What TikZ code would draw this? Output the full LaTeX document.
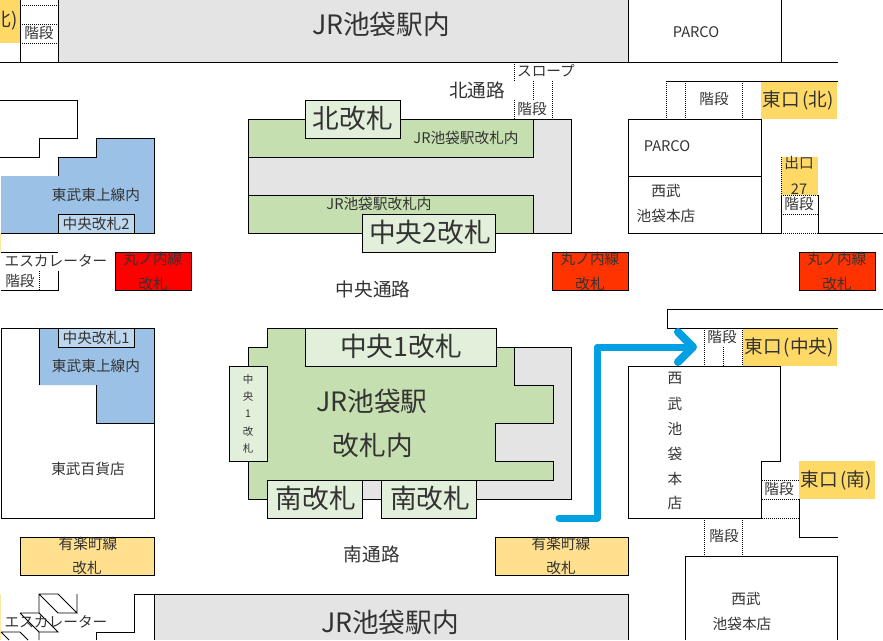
\documentclass[tikz,border=0pt]{standalone}
\usepackage{fontspec}
\setmainfont{Noto Sans CJK JP}
\definecolor{grn}{HTML}{C6DFB0}
\definecolor{lgrn}{HTML}{E2EFDA}
\definecolor{gry}{HTML}{E4E4E4}
\definecolor{blu}{HTML}{9BC2E6}
\definecolor{lblu}{HTML}{BDD7EE}
\definecolor{yel}{HTML}{FFD966}
\definecolor{lyel}{HTML}{FFE08F}
\definecolor{org}{HTML}{FF3300}
\definecolor{arr}{HTML}{00A0E3}
\newcommand{\kp}[1]{\kern2pt(#1)\kern2pt}
\tikzset{
 ln/.style={line width=0.9pt,black},
 dt/.style={line width=1pt,black,dash pattern=on 1pt off 1pt},
 ts/.style={inner sep=0pt,text=black!80,font=\fontsize{14.67}{16}\selectfont},
 tm/.style={inner sep=0pt,text=black!80,font=\fontsize{18.67}{20}\selectfont},
 tb/.style={inner sep=0pt,text=black!80,font=\fontsize{26.67}{28}\selectfont},
 tx/.style={inner sep=0pt,text=black!80,font=\fontsize{10.5}{12}\selectfont},
}
\begin{document}
\begin{tikzpicture}[x=1pt,y=-1pt]
\useasboundingbox (0,0) rectangle (883,640);
\clip (0,0) rectangle (883,640);
% fills top
\fill[yel] (0,0) rectangle (20,43);
\fill[gry] (58,0) rectangle (628,62);
\fill[yel] (761,81) rectangle (837,119);
\fill[yel] (781,157) rectangle (818,195);
\fill[yel] (743,328) rectangle (837,366);
\fill[yel] (799,461) rectangle (875,499);
\fill[yel!60] (0,233) rectangle (1,252);
\fill[yel!60] (0,594) rectangle (1,640);
% top lines
\draw[ln] (0,62) -- (838,62);
\draw[ln] (20.5,0) -- (20.5,62) (58,0) -- (58,62) (628,0) -- (628,62) (781,0) -- (781,62);
\draw[dt] (20,5) -- (58,5) (20,24) -- (58,24) (20,43) -- (58,43);
% slope
\draw[dt] (514,62) -- (514,81) (514,100) -- (514,119) (533,81) -- (533,100) (552,81) -- (552,119);
% north JR
\fill[gry] (248,119) rectangle (571,233);
\draw[ln] (248,119) rectangle (571,233);
\draw[ln,fill=grn] (248,119) rectangle (533,157);
\draw[ln,fill=grn] (248,195) rectangle (533,233);
\draw[ln,fill=lgrn] (305,100) rectangle (400,138);
\draw[ln,fill=lgrn] (362,214) rectangle (495,252);
% left tobu
\draw[ln] (0,100) -- (77,100) -- (77,138) -- (39,138) -- (39,157) -- (0,157);
\fill[blu] (1,176) -- (58,176) -- (58,157) -- (96,157) -- (96,138) -- (154,138) -- (154,233) -- (1,233) -- cycle;
\draw[ln] (58,176) -- (58,157) -- (96,157) -- (96,138) -- (154,138) -- (154,233) -- (1,233);
\draw[ln,fill=lblu] (58,214) rectangle (134.5,233);
% escalator left
\draw[ln] (1,252) -- (58,252) (58,271) -- (58,290) -- (1,290);
\draw[dt] (39,271) -- (39,290);
\draw[ln,fill=red] (115.5,252) rectangle (191.5,290);
\draw[ln,fill=org] (552,252) rectangle (628,290);
\draw[ln,fill=org] (799,252) rectangle (875,290);
% parco
\draw[ln] (628,119) rectangle (761.5,233);
\draw[ln] (628,176) -- (761.5,176);
\draw[ln] (666,81) -- (838,81);
\draw[dt] (666,81) -- (666,119) (685,81) -- (685,119) (742,81) -- (742,119);
\draw[ln] (781,195) -- (781,233) (818,195) -- (818,233);
\draw[ln] (761.5,233) -- (781,233) (818,233) -- (883,233);
\draw[dt] (781,157) -- (781,195) (781,195) -- (818,195) (781,214) -- (818,214) (781,233) -- (818,233);
% lower left
\draw[ln] (1,328) rectangle (154,518);
\fill[blu] (39,328) -- (154,328) -- (154,423) -- (96,423) -- (96,385) -- (39,385) -- cycle;
\draw[ln] (39,385) -- (39,328) -- (154,328) -- (154,423) -- (96,423) -- (96,385);
\draw[ln,fill=lblu] (58,328) rectangle (134.5,347);
\draw[ln,fill=lyel] (20,537) rectangle (154,575);
% center
\fill[gry] (495,347) rectangle (571.5,499);
\fill[gry] (362,480) rectangle (571.5,499);
\draw[ln] (496,347) -- (571.5,347) -- (571.5,499) -- (476,499) (362,499) -- (381,499);
\draw[ln,fill=grn] (267,328) -- (305,328) -- (305,347) -- (514,347) -- (514,385) -- (553,385) -- (553,423) -- (495,423) -- (495,461) -- (553,461) -- (553,480) -- (362,480) -- (362,499) -- (248,499) -- (248,347) -- (267,347) -- cycle;
\draw[ln,fill=lgrn] (305,328) rectangle (496,366);
\draw[ln,fill=lgrn] (229,366) rectangle (267,461);
\draw[ln,fill=lgrn] (267,480) rectangle (362,518);
\draw[ln,fill=lgrn] (381,480) rectangle (476,518);
% right lower
\draw[ln] (883,309) -- (667,309) -- (667,328) -- (838,328);
\draw[dt] (704,328) -- (704,366) (723,347) -- (723,366) (742,328) -- (742,366);
\draw[ln] (628,366) -- (780.5,366) -- (780.5,461) -- (761.5,461) -- (761.5,518) -- (628,518) -- cycle;
\draw[dt] (761.5,480) -- (799,480) (761.5,499) -- (799,499) (761.5,518) -- (799,518);
\draw[ln] (799.5,499) -- (799.5,537) -- (838,537);
\draw[dt] (704,518) -- (704,556) (742,518) -- (742,556);
\draw[ln] (685,640) -- (685,556.5) -- (837.5,556.5) -- (837.5,640);
\draw[ln,fill=lyel] (495,537) rectangle (628.5,575);
% bottom
\fill[gry] (154,594) rectangle (628,640);
\draw[ln] (96.5,640) -- (96.5,632) -- (134.5,632) -- (134.5,594) -- (628.5,594) -- (628.5,640);
\draw[ln] (154,594) -- (154,640);
\draw[ln] (39,613) -- (39,594) -- (58,594) -- (77,613) -- (77,594) (39,594) -- (58,613) -- (77,613);
\draw[ln] (1,632) -- (20,632) -- (28,640) (20,613) -- (39,613) -- (58,632) -- (39,632) -- (39,640) (20,613) -- (39,632) (1,632) -- (9,640);
% arrow
\draw[arr,line width=7pt,line cap=round,line join=round] (559,518) -- (597,518) -- (597,347) -- (692,347);
\draw[arr,line width=8pt,line cap=round,line join=round] (678,332) -- (693,347) -- (678,362);
% text
\begin{scope}
\clip (0,0) rectangle (20,43);
\node[tm,anchor=east] (n1) at (20,20) {東口\kp{北}};
\end{scope}
\node[ts] (n2) at (39,33) {階段};
\node[tb] (n3) at (381,24) {JR池袋駅内};
\node[ts] (n4) at (696,32) {PARCO};
\node[ts] (n5) at (546,71) {スロープ};
\node[ts] (n6) at (532,109) {階段};
\node[tm] (n7) at (477,90) {北通路};
\node[tb] (n8) at (353,118) {北改札};
\node[ts] (n9) at (466,138) {JR池袋駅改札内};
\node[ts] (n10) at (379,204) {JR池袋駅改札内};
\node[tb] (n11) at (430,232) {中央2改札};
\node[ts] (n12) at (96,195) {東武東上線内};
\node[ts] (n13) at (96,223.5) {中央改札2};
\node[ts] (n14) at (56,261) {エスカレーター};
\node[ts] (n15) at (20,281) {階段};
\node[ts] (n16) at (153,259) {丸ノ内線};
\node[ts] (n17) at (153,284) {改札};
\node[ts] (n18) at (590,259) {丸ノ内線};
\node[ts] (n19) at (590,284) {改札};
\node[ts] (n20) at (837,259) {丸ノ内線};
\node[ts] (n21) at (837,284) {改札};
\node[tm] (n22) at (373,289) {中央通路};
\node[ts] (n23) at (714,99) {階段};
\node[tm] (n24) at (799,100) {東口\kp{北}};
\node[ts] (n25) at (667,146) {PARCO};
\node[ts] (n26) at (666,191) {西武};
\node[ts] (n27) at (666,216) {池袋本店};
\node[ts] (n28) at (799,163) {出口};
\node[ts] (n29) at (799,189) {27};
\node[ts] (n30) at (799,204) {階段};
\node[ts] (n31) at (96,338) {中央改札1};
\node[ts] (n32) at (96,366) {東武東上線内};
\node[ts] (n33) at (88,469) {東武百貨店};
\node[ts] (n34) at (88,544) {有楽町線};
\node[ts] (n35) at (87,568) {改札};
\node[tb] (n36) at (401,346) {中央1改札};
\node[tx] (n37) at (248,379) {中};
\node[tx] (n38) at (248,397) {央};
\node[tx] (n39) at (248,414) {1};
\node[tx] (n40) at (248,432) {改};
\node[tx] (n41) at (248,449) {札};
\node[tb] (n42) at (372,401) {JR池袋駅};
\node[tb] (n43) at (373,445) {改札内};
\node[tb] (n44) at (316,498) {南改札};
\node[tb] (n45) at (430,498) {南改札};
\node[tm] (n46) at (372,554) {南通路};
\node[ts] (n47) at (561,544) {有楽町線};
\node[ts] (n48) at (561,568) {改札};
\node[tb] (n49) at (390,622) {JR池袋駅内};
\node[ts] (n50) at (56,622) {エスカレーター};
\node[ts] (n51) at (722,337) {階段};
\node[tm] (n52) at (790,347) {東口\kp{中央}};
\node[ts] (n53) at (675,378) {西};
\node[ts] (n54) at (675,404) {武};
\node[ts] (n55) at (675,429) {池};
\node[ts] (n56) at (675,454) {袋};
\node[ts] (n57) at (675,479) {本};
\node[ts] (n58) at (675,503) {店};
\node[ts] (n59) at (779,489) {階段};
\node[tm] (n60) at (837,480) {東口\kp{南}};
\node[ts] (n61) at (724,536) {階段};
\node[ts] (n62) at (746,599) {西武};
\node[ts] (n63) at (742,624) {池袋本店};
\end{tikzpicture}
\end{document}
